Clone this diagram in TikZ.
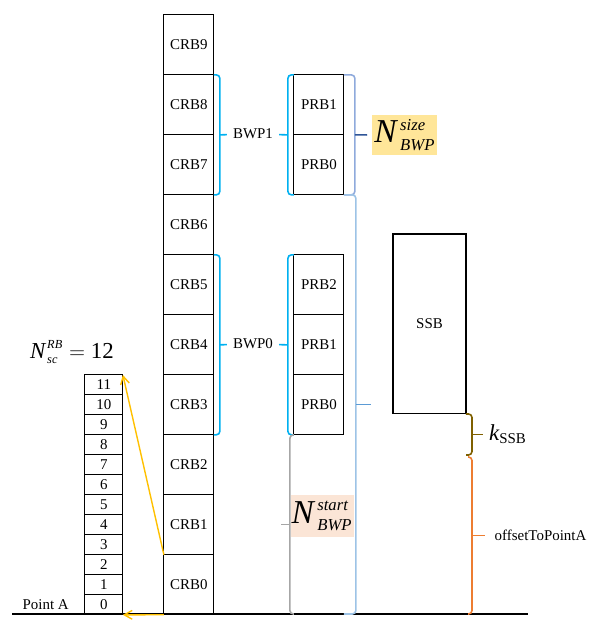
\documentclass[tikz,border=0pt]{standalone}
\usepackage{amsmath}
\usepackage{fontspec}
\setmainfont{Liberation Serif}
\usepackage{tikz}
\usetikzlibrary{matrix,calc,positioning,arrows.meta}

\definecolor{bwpblue}{HTML}{00B0F0}
\definecolor{sizegray}{HTML}{8FAADC}
\definecolor{sizeblue}{HTML}{2F5597}
\definecolor{bigblue}{HTML}{9DC3E6}
\definecolor{bigtick}{HTML}{5B9BD5}
\definecolor{startgray}{HTML}{A6A6A6}
\definecolor{startfill}{HTML}{FBE5D6}
\definecolor{sizefill}{HTML}{FFE699}
\definecolor{kbrown}{HTML}{7F6000}
\definecolor{offorange}{HTML}{ED7D31}
\definecolor{arrowyel}{HTML}{FFC000}

\newcommand{\scrit}[2]{\mbox{\fontsize{#1}{#1}\selectfont\textit{#2}}}

\begin{document}
\begin{tikzpicture}[x=0.02cm,y=-0.02cm,>={Straight Barb[length=4.5pt,width=5pt]},
    font=\fontsize{8.5}{10}\selectfont,
    rb/.style={draw,line width=0.6pt,minimum width=1cm,minimum height=1.2cm,inner sep=0pt,outer sep=0pt},
    subc/.style={draw,line width=0.6pt,minimum width=0.76cm,minimum height=0.4cm,inner sep=0pt,outer sep=0pt},
    brace/.style={line width=0.9pt,rounded corners=2pt},
    tick/.style={line width=0.9pt},
    ]
\useasboundingbox (0,0) rectangle (600,628);

% resource block columns
\matrix (crb) [matrix of nodes, nodes={rb}, row sep=-0.6pt, inner sep=0pt, anchor=north west] at (163,14)
{ CRB9 \\ CRB8 \\ CRB7 \\ CRB6 \\ CRB5 \\ CRB4 \\ CRB3 \\ CRB2 \\ CRB1 \\ CRB0 \\ };
\matrix (prbhi) [matrix of nodes, nodes={rb}, row sep=-0.6pt, inner sep=0pt, anchor=north west] at (293,74)
{ PRB1 \\ PRB0 \\ };
\matrix (prblo) [matrix of nodes, nodes={rb}, row sep=-0.6pt, inner sep=0pt, anchor=north west] at (293,254)
{ PRB2 \\ PRB1 \\ PRB0 \\ };
\matrix (sc) [matrix of nodes, nodes={subc}, row sep=-0.6pt, inner sep=0pt, anchor=north west] at (84,374)
{ 11 \\ 10 \\ 9 \\ 8 \\ 7 \\ 6 \\ 5 \\ 4 \\ 3 \\ 2 \\ 1 \\ 0 \\ };
\node[rb, minimum width=1.46cm, minimum height=3.6cm, anchor=north west] (ssb) at (393,234) {SSB};

\coordinate (basew) at (12,614);
\coordinate (basee) at (528,614);
\draw[line width=0.6pt] (basew) -- (basee);

\node (pointa) [left=0.2cm of sc-12-1] {Point A};
\node[font=\fontsize{13}{15}\selectfont] (nsc) at (72,352)
  {${\textit{N}\kern1pt}^{\scrit{7}{RB}}_{\scrit{7}{sc}}=\text{12}$};

\draw[->, arrowyel, line width=0.8pt] (crb-10-1.north west) -- (sc-1-1.north east);
\draw[->, arrowyel, line width=0.8pt] (crb-10-1.south west) -- (sc-12-1.south east);

% bandwidth parts
\node (bwpone) at (253,134) {BWP1};
\node (bwpzero) at (253,344) {BWP0};

\draw[brace, bwpblue] (crb-2-1.north east) -| ($(crb-3-1.south east)+(6,0)$) -- (crb-3-1.south east);
\draw[tick, bwpblue] ($(crb-2-1.south east)+(6,0)$) -- (bwpone);
\draw[brace, bwpblue] (prbhi-1-1.north west) -| ($(prbhi-2-1.south west)+(-6,0)$) -- (prbhi-2-1.south west);
\draw[tick, bwpblue] ($(prbhi-1-1.south west)+(-6,0)$) -- (bwpone);

\draw[brace, bwpblue] (crb-5-1.north east) -| ($(crb-7-1.south east)+(6,0)$) -- (crb-7-1.south east);
\draw[tick, bwpblue] ($(crb-6-1.east)+(6,0)$) -- (bwpzero);
\draw[brace, bwpblue] (prblo-1-1.north west) -| ($(prblo-3-1.south west)+(-6,0)$) -- (prblo-3-1.south west);
\draw[tick, bwpblue] ($(prblo-2-1.west)+(-6,0)$) -- (bwpzero);

% size and start of BWP
\node[fill=sizefill, minimum width=1.3cm, minimum height=0.8cm, inner sep=0pt, anchor=west,
      font=\fontsize{19}{22}\selectfont] (nsize) at (372,135)
  {${\textit{N}\kern2pt}^{\scrit{9.5}{size}}_{\scrit{9.5}{BWP}}$};
\draw[brace, sizegray] (prbhi-1-1.north east) -| ($(prbhi-2-1.south east)+(11,0)$) -- (prbhi-2-1.south east);
\draw[tick, sizeblue, shorten >=2.8pt] ($(prbhi-1-1.south east)+(11,0)$) -- (nsize.west);

\draw[brace, bigblue] (prbhi-2-1.south east) -| ($(prbhi-2-1.south east |- basew)+(12,0)$) -- (prbhi-2-1.south east |- basew);
\draw[tick, bigtick] ($(prbhi-2-1.south east)!.5!(prbhi-2-1.south east |- basew)+(12,0)$) -- ++(15,0);

\node[fill=startfill, minimum width=1.26cm, minimum height=0.84cm, inner sep=0pt,
      font=\fontsize{19}{22}\selectfont] (nstart) at (322,516)
  {${\textit{N}\kern2pt}^{\scrit{9.5}{start}}_{\scrit{9.5}{BWP}}$};
\draw[brace, startgray] (prblo-3-1.south west) -| ($(prblo-3-1.south west |- basew)+(-4,0)$) -- (prblo-3-1.south west |- basew);
\draw[tick, startgray] ($(prblo-3-1.south west)!.5!(prblo-3-1.south west |- basew)+(-4,0)$) -- ++(-9,0);

% SSB offsets
\coordinate (kbot) at (466,455);
\draw[brace, kbrown] (ssb.south east) -| ($(kbot)+(6,0)$) -- (kbot);
\draw[tick, kbrown] ($(ssb.south east)!.5!(kbot)+(6,0)$) -- ++(11,0) coordinate (ktip);
\node[right=0pt of ktip, font=\fontsize{13}{15}\selectfont] (kssb)
  {$\textit{k}_{\mbox{\fontsize{8.5}{8.5}\selectfont SSB}}$};

\coordinate (otop) at (468,457);
\draw[brace, offorange] (otop) -| ($(otop |- basew)+(4,0)$) -- (otop |- basew);
\draw[tick, offorange] ($(otop)!.5!(otop |- basew)+(4,0)$) -- ++(13,0) coordinate (otip);
\node[right=2pt of otip] (offlbl) {offsetToPointA};
\end{tikzpicture}
\end{document}
